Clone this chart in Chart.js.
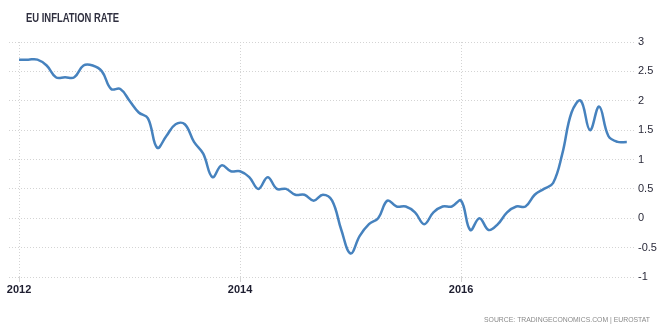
<!DOCTYPE html>
<html><head><meta charset="utf-8">
<script src="https://cdn.jsdelivr.net/npm/chart.js@4/dist/chart.umd.min.js"></script>
<style>html,body{margin:0;padding:0;background:#fff}#wrap{width:660px;height:329px;position:relative}</style>
</head><body><div id="wrap"><canvas id="c" width="660" height="329"></canvas></div>
<script>
const chartTitle = 'EU INFLATION RATE';
const sourceText = 'SOURCE: TRADINGECONOMICS.COM | EUROSTAT';
const yearLabels = ['2012','2014','2016'];
const yearTickMonths = [0,24,48];
const rate2012 = [2.7,2.7,2.7,2.6,2.4,2.4,2.4,2.6,2.6,2.5,2.2,2.2];
const rate2013 = [2.0,1.8,1.7,1.2,1.4,1.6,1.6,1.3,1.1,0.7,0.9,0.8];
const rate2014 = [0.8,0.7,0.5,0.7,0.5,0.5,0.4,0.4,0.3,0.4,0.3,-0.2];
const rate2015 = [-0.6,-0.3,-0.1,0.0,0.3,0.2,0.2,0.1,-0.1,0.1,0.2,0.2];
const rate2016 = [0.3,-0.2,0.0,-0.2,-0.1,0.1,0.2,0.2,0.4,0.5,0.6,1.1];
const rate2017 = [1.8,2.0,1.5,1.9,1.4,1.3,1.3];
const yTickValues = [-1,-0.5,0,0.5,1,1.5,2,2.5,3];

const allRates = [].concat(rate2012, rate2013, rate2014, rate2015, rate2016, rate2017);
const points = allRates.map((v, i) => ({x: i, y: v}));

function fitText(ctx, text, x, y, width) {
  const w = ctx.measureText(text).width;
  const s = Math.min(1, width / w);
  ctx.save();
  ctx.translate(x, y);
  ctx.scale(s, 1);
  ctx.fillText(text, 0, 0);
  ctx.restore();
}

const textPlugin = {
  id: 'texts',
  afterDraw(chart) {
    const ctx = chart.ctx;
    ctx.save();
    ctx.fillStyle = '#2f2f3f';
    ctx.font = 'bold 12px "Liberation Sans", Arial, sans-serif';
    ctx.textAlign = 'left';
    ctx.textBaseline = 'alphabetic';
    fitText(ctx, chartTitle, 26, 22, 93);
    ctx.fillStyle = '#8a8a8a';
    ctx.font = '7.5px "Liberation Sans", Arial, sans-serif';
    ctx.textAlign = 'left';
    fitText(ctx, sourceText, 484, 322, 166);
    ctx.restore();
  }
};

new Chart(document.getElementById('c'), {
  type: 'line',
  data: {
    datasets: [{
      data: points,
      borderColor: '#4682be',
      borderWidth: 2.5,
      pointRadius: 0,
      tension: 0.4,
      fill: false
    }]
  },
  options: {
    responsive: false,
    animation: false,
    events: [],
    layout: {padding: {left: 9, right: 0, top: 42, bottom: 0}},
    plugins: {legend: {display: false}, tooltip: {enabled: false}},
    scales: {
      x: {
        type: 'linear',
        min: -1.09,
        max: 67,
        afterBuildTicks(scale) { scale.ticks = yearTickMonths.map(v => ({value: v})); },
        afterFit(scale) { scale.height = 52; },
        grid: {color: '#d4d4d4', lineWidth: 1, drawTicks: true, tickLength: 5},
        border: {display: false, dash: [1, 2]},
        ticks: {
          padding: 1,
          maxRotation: 0,
          color: '#1e1e30',
          font: {family: '"Liberation Sans", Arial, sans-serif', size: 11, weight: 'bold'},
          callback: (v) => { const k = yearTickMonths.indexOf(v); return k >= 0 ? yearLabels[k] : ''; }
        }
      },
      y: {
        position: 'right',
        min: -1,
        max: 3,
        afterBuildTicks(scale) { scale.ticks = yTickValues.map(v => ({value: v})); },
        afterFit(scale) { scale.width = 24; },
        grid: {color: '#d4d4d4', lineWidth: 1, drawTicks: false},
        border: {display: false, dash: [1, 2]},
        ticks: {
          padding: 2,
          color: '#2a2a3a',
          font: {family: '"Liberation Sans", Arial, sans-serif', size: 11},
          callback: (v) => String(v)
        }
      }
    }
  },
  plugins: [textPlugin]
});
</script>
</body></html>
